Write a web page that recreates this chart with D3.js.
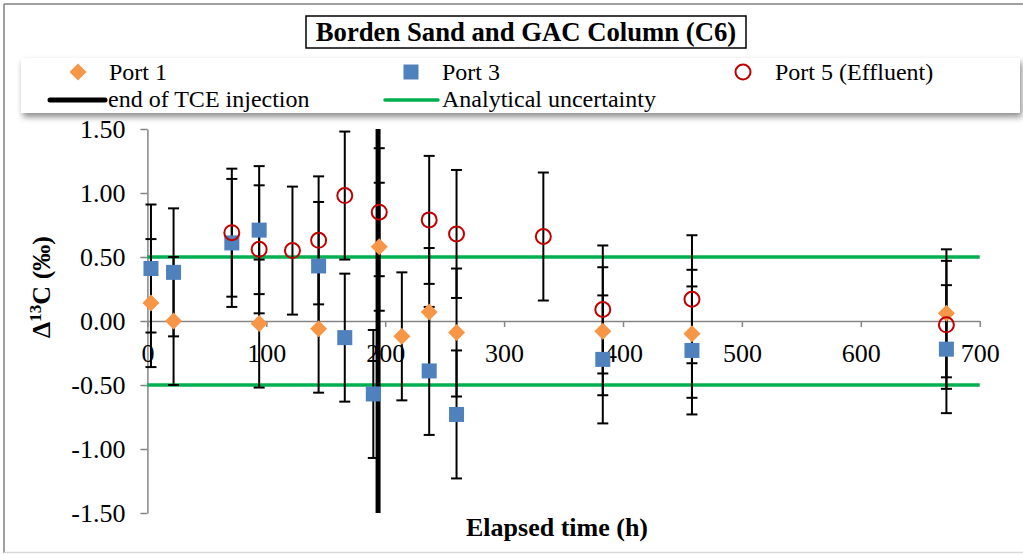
<!DOCTYPE html>
<html>
<head>
<meta charset="utf-8">
<script src="https://cdn.jsdelivr.net/npm/d3@7"></script>
<style>
body { margin: 0; background: #fff; }
svg text { font-family: "Liberation Serif", "Times New Roman", serif; fill: #000; }
</style>
</head>
<body>
<svg id="chart"></svg>
<script>
// values
const port1Time = [3, 22, 94, 144, 195, 214, 237, 260, 383, 458, 672];
const port1Delta = [0.14, 0.00, -0.02, -0.06, 0.58, -0.12, 0.07, -0.09, -0.08, -0.10, 0.06];

const port3Time = [3, 22, 71, 94, 144, 166, 190, 237, 260, 383, 458, 672];
const port3Delta = [0.41, 0.38, 0.61, 0.71, 0.43, -0.13, -0.57, -0.39, -0.73, -0.30, -0.23, -0.22];

const port5Time = [71, 94, 122, 144, 166, 195, 237, 260, 333, 383, 458, 672];
const port5Delta = [0.69, 0.56, 0.55, 0.63, 0.98, 0.85, 0.79, 0.68, 0.66, 0.09, 0.17, -0.03];

const errorSize = 0.5;
const uncertainty = [0.5, -0.5];
const tceEndTime = 194;
const tceRange = [-1.5, 1.5];

const xTicks = [0, 100, 200, 300, 400, 500, 600, 700];
const yTicks = [-1.5, -1.0, -0.5, 0, 0.5, 1.0, 1.5];

const chartSize = { width: 1023, height: 554 };
const colors = { port1: '#f79646', port3: '#4f81bd', port5: '#c00000', tce: '#000', unc: '#00b050', axis: '#868686' };

const zip = (xs, ys) => xs.map((t, i) => ({ t, v: ys[i] }));
const series = [
    { name: 'Port 1', key: 'port1', data: zip(port1Time, port1Delta) },
    { name: 'Port 3', key: 'port3', data: zip(port3Time, port3Delta) },
    { name: 'Port 5 (Effluent)', key: 'port5', data: zip(port5Time, port5Delta) }
];

const drawMarker = (sel, key) => {
    if (key === 'port1') {
        sel.append('path').attr('d', 'M0,-8.5L8.5,0L0,8.5L-8.5,0Z').attr('fill', colors.port1);
    } else if (key === 'port3') {
        sel.append('rect').attr('x', -7.5).attr('y', -7.5).attr('width', 15).attr('height', 15).attr('fill', colors.port3);
    } else {
        sel.append('circle').attr('r', 7.5).attr('fill', 'none').attr('stroke', colors.port5).attr('stroke-width', 2);
    }
};

const drawChart = () => {
    const svg = d3.select('#chart')
        .attr('width', chartSize.width)
        .attr('height', chartSize.height);

    const defs = svg.append('defs');
    defs.append('filter').attr('id', 'shadow').attr('x', '-5%').attr('y', '-30%').attr('width', '110%').attr('height', '170%')
        .append('feDropShadow').attr('dx', 2).attr('dy', 4).attr('stdDeviation', 3)
        .attr('flood-color', '#000').attr('flood-opacity', 0.45);

    // outer frame
    svg.append('line').attr('x1', 4).attr('x2', 4).attr('y1', 4).attr('y2', 553).attr('stroke', '#808080').attr('stroke-width', 1.5);
    svg.append('line').attr('x1', 4).attr('x2', 1023).attr('y1', 4).attr('y2', 4).attr('stroke', '#808080').attr('stroke-width', 1.5);
    svg.append('line').attr('x1', 4).attr('x2', 1023).attr('y1', 552.5).attr('y2', 552.5).attr('stroke', '#d9d9d9').attr('stroke-width', 1.5);

    const x = d3.scaleLinear().domain([0, 700]).range([147.4, 979.7]);
    const y = d3.scaleLinear().domain([-1.5, 1.5]).range([513, 129]);

    const yAxis = d3.axisLeft(y).tickValues(yTicks).tickFormat(d => d.toFixed(2))
        .tickSize(7).tickSizeOuter(0).tickPadding(15);
    const xAxis = d3.axisBottom(x).tickValues(xTicks).tickFormat(d => d)
        .tickSize(6).tickSizeOuter(0).tickPadding(17);

    svg.append('g').attr('class', 'y-axis').attr('transform', `translate(${x(0)},0)`).call(yAxis);
    svg.append('g').attr('class', 'x-axis').attr('transform', `translate(0,${y(0)})`).call(xAxis);
    svg.selectAll('.y-axis path, .y-axis line, .x-axis path, .x-axis line')
        .attr('stroke', colors.axis).attr('stroke-width', 1.5);
    svg.selectAll('.y-axis text, .x-axis text')
        .attr('fill', '#000').style('font-size', '26px').style('font-family', '"Liberation Serif", serif');

    // analytical uncertainty
    svg.selectAll('.unc').data(uncertainty).enter().append('line')
        .attr('class', 'unc')
        .attr('x1', x(0)).attr('x2', x(700))
        .attr('y1', d => y(d)).attr('y2', d => y(d))
        .attr('stroke', colors.unc).attr('stroke-width', 3.5);

    // end of TCE injection
    svg.append('line')
        .attr('x1', x(tceEndTime)).attr('x2', x(tceEndTime))
        .attr('y1', y(tceRange[0])).attr('y2', y(tceRange[1]))
        .attr('stroke', colors.tce).attr('stroke-width', 5);

    // error bars
    const allPoints = series.flatMap(s => s.data);
    const bars = svg.append('g').attr('class', 'error-bars').attr('stroke', '#000').attr('stroke-width', 2);
    allPoints.forEach(p => {
        const cx = x(p.t), top = y(p.v + errorSize), bot = y(p.v - errorSize);
        bars.append('line').attr('x1', cx).attr('x2', cx).attr('y1', top).attr('y2', bot);
        bars.append('line').attr('x1', cx - 5.5).attr('x2', cx + 5.5).attr('y1', top).attr('y2', top);
        bars.append('line').attr('x1', cx - 5.5).attr('x2', cx + 5.5).attr('y1', bot).attr('y2', bot);
    });

    // markers
    series.forEach(s => {
        svg.append('g').attr('class', s.key).selectAll('g').data(s.data).enter().append('g')
            .attr('transform', d => `translate(${x(d.t)},${y(d.v)})`)
            .each(function () { drawMarker(d3.select(this), s.key); });
    });

    // axis titles
    svg.append('text')
        .attr('x', 557).attr('y', 536)
        .attr('text-anchor', 'middle')
        .style('font-size', '26px').style('font-weight', 'bold')
        .text('Elapsed time (h)');

    const yLabel = svg.append('text')
        .attr('transform', 'translate(50,287) rotate(-90)')
        .attr('text-anchor', 'middle')
        .style('font-size', '26px').style('font-weight', 'bold');
    yLabel.append('tspan').text('Δ');
    yLabel.append('tspan').attr('dy', -9).style('font-size', '17px').text('13');
    yLabel.append('tspan').attr('dy', 9).text('C (‰)');

    // title
    svg.append('rect').attr('x', 306).attr('y', 16).attr('width', 440).attr('height', 32)
        .attr('fill', '#fff').attr('stroke', '#000').attr('stroke-width', 1.5);
    svg.append('text')
        .attr('x', 526).attr('y', 41)
        .attr('text-anchor', 'middle')
        .style('font-size', '26.7px').style('font-weight', 'bold')
        .text('Borden Sand and GAC Column (C6)');

    // legend
    const legend = svg.append('g').attr('class', 'legend');
    legend.append('rect').attr('x', 21).attr('y', 58).attr('width', 999).attr('height', 55)
        .attr('fill', '#fff').attr('filter', 'url(#shadow)');

    const legendItems = [
        { name: 'Port 1', key: 'port1', mx: 78, tx: 109, ty: 80 },
        { name: 'Port 3', key: 'port3', mx: 411, tx: 442, ty: 80 },
        { name: 'Port 5 (Effluent)', key: 'port5', mx: 743, tx: 775, ty: 80 }
    ];
    legendItems.forEach(it => {
        const g = legend.append('g').attr('transform', `translate(${it.mx},${it.ty - 8})`);
        drawMarker(g, it.key);
        legend.append('text').attr('x', it.tx).attr('y', it.ty).style('font-size', '24px').text(it.name);
    });

    const legendLines = [
        { name: 'end of TCE injection', color: colors.tce, w: 5, x1: 50, x2: 105, tx: 108, ty: 107 },
        { name: 'Analytical uncertainty', color: colors.unc, w: 3.5, x1: 385, x2: 438, tx: 442, ty: 107 }
    ];
    legendLines.forEach(it => {
        legend.append('line').attr('x1', it.x1).attr('x2', it.x2).attr('y1', it.ty - 7).attr('y2', it.ty - 7)
            .attr('stroke', it.color).attr('stroke-width', it.w).attr('stroke-linecap', 'round');
        legend.append('text').attr('x', it.tx).attr('y', it.ty).style('font-size', '24px').text(it.name);
    });
};

window.onload = drawChart;
</script>
</body>
</html>
